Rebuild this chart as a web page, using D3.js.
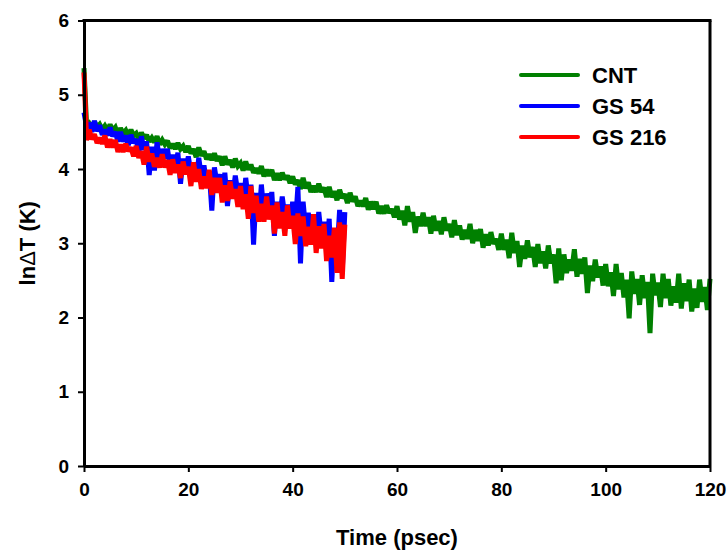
<!DOCTYPE html>
<html>
<head>
<meta charset="utf-8">
<script src="https://cdn.jsdelivr.net/npm/d3@7"></script>
<style>
    html, body { margin: 0; padding: 0; background: #FFFFFF; }
    svg { display: block; }
    text { font-family: Arial, "Liberation Sans", sans-serif; font-weight: bold; fill: #000; }
</style>
</head>
<body>
<svg id="chart"></svg>
<script>
const width = 728
const height = 550

// Data (ln dT in K, one reading every 0.5 psec starting at t = 0)
const sampleStep = 0.5

const cntValues = [
    5.36, 4.57, 4.61, 4.54, 4.64, 4.56, 4.60, 4.53, 4.58, 4.52,
    4.60, 4.52, 4.56, 4.46, 4.55, 4.48, 4.52, 4.44, 4.53, 4.45,
    4.48, 4.40, 4.49, 4.41, 4.46, 4.37, 4.42, 4.36, 4.44, 4.33,
    4.39, 4.33, 4.38, 4.28, 4.34, 4.27, 4.35, 4.27, 4.31, 4.23,
    4.31, 4.21, 4.27, 4.16, 4.29, 4.18, 4.24, 4.13, 4.20, 4.12,
    4.21, 4.11, 4.17, 4.05, 4.17, 4.06, 4.12, 4.02, 4.14, 4.04,
    4.08, 3.98, 4.10, 3.99, 4.06, 3.95, 4.01, 3.94, 4.04, 3.90,
    3.99, 3.91, 3.99, 3.85, 3.94, 3.85, 3.95, 3.86, 3.91, 3.81,
    3.90, 3.79, 3.85, 3.73, 3.88, 3.74, 3.82, 3.69, 3.77, 3.69,
    3.80, 3.69, 3.75, 3.62, 3.76, 3.62, 3.70, 3.58, 3.72, 3.61,
    3.66, 3.54, 3.68, 3.56, 3.63, 3.50, 3.57, 3.50, 3.61, 3.45,
    3.56, 3.46, 3.56, 3.40, 3.50, 3.40, 3.51, 3.41, 3.46, 3.35,
    3.50, 3.32, 3.44, 3.24, 3.50, 3.29, 3.42, 3.14, 3.36, 3.23,
    3.41, 3.23, 3.35, 3.13, 3.37, 3.17, 3.30, 3.12, 3.35, 3.17,
    3.26, 3.08, 3.31, 3.11, 3.24, 3.05, 3.18, 3.06, 3.26, 3.00,
    3.18, 3.03, 3.19, 2.94, 3.12, 2.97, 3.15, 2.99, 3.06, 2.91,
    3.13, 2.91, 3.05, 2.80, 3.14, 2.87, 3.03, 2.68, 2.97, 2.79,
    3.04, 2.81, 2.95, 2.68, 2.99, 2.73, 2.89, 2.66, 2.97, 2.73,
    2.85, 2.46, 2.93, 2.50, 2.85, 2.60, 2.78, 2.63, 2.92, 2.55,
    2.79, 2.59, 2.81, 2.33, 2.70, 2.49, 2.78, 2.54, 2.69, 2.43,
    2.72, 2.42, 2.61, 2.29, 2.72, 2.38, 2.60, 2.27, 2.51, 1.99,
    2.62, 2.32, 2.52, 2.17, 2.57, 2.26, 2.48, 1.79, 2.59, 2.30,
    2.47, 2.14, 2.59, 2.26, 2.52, 2.16, 2.42, 2.20, 2.59, 2.12,
    2.46, 2.22, 2.51, 2.08, 2.39, 2.13, 2.51, 2.21, 2.41, 2.10,
    2.52
]

const gs54Values = [
    4.76, 4.57, 4.62, 4.50, 4.65, 4.51, 4.59, 4.46, 4.53, 4.45,
    4.56, 4.44, 4.50, 4.37, 4.50, 4.37, 4.45, 4.32, 4.46, 4.35,
    4.40, 4.23, 4.44, 4.26, 4.37, 3.92, 4.30, 3.98, 4.36, 4.12,
    4.27, 4.14, 4.27, 4.04, 4.19, 4.05, 4.22, 3.80, 4.14, 3.98,
    4.17, 3.95, 4.08, 3.84, 4.15, 3.90, 4.05, 3.80, 3.97, 3.44,
    4.02, 3.81, 3.93, 3.66, 3.95, 3.50, 3.85, 3.63, 3.91, 3.68,
    3.81, 3.52, 3.88, 3.59, 3.79, 2.98, 3.68, 3.30, 3.79, 3.40,
    3.67, 3.44, 3.69, 3.10, 3.56, 3.32, 3.63, 3.37, 3.52, 3.25,
    3.56, 3.23, 3.76, 2.73, 3.56, 3.18, 3.41, 3.05, 3.31, 3.06,
    3.42, 3.09, 3.29, 2.90, 3.33, 2.48, 3.20, 2.87, 3.45, 2.62,
    3.42
]

const gs216Values = [
    5.30, 4.39, 4.53, 4.40, 4.47, 4.35, 4.42, 4.34, 4.45, 4.29,
    4.40, 4.29, 4.39, 4.23, 4.33, 4.23, 4.34, 4.24, 4.29, 4.17,
    4.31, 4.15, 4.24, 4.06, 4.30, 4.10, 4.21, 4.03, 4.15, 4.02,
    4.20, 4.02, 4.12, 3.92, 4.13, 3.95, 4.06, 3.88, 4.10, 3.93,
    4.03, 3.77, 4.09, 3.83, 4.00, 3.73, 3.90, 3.74, 3.99, 3.65,
    3.88, 3.68, 3.88, 3.55, 3.78, 3.57, 3.83, 3.60, 3.73, 3.49,
    3.77, 3.46, 3.66, 3.33, 3.77, 3.41, 3.64, 3.29, 3.53, 3.29,
    3.63, 3.32, 3.51, 3.13, 3.55, 3.20, 3.42, 3.10, 3.51, 3.20,
    3.37, 2.99, 3.40, 3.10, 3.36, 2.96, 3.22, 2.98, 3.39, 2.87,
    3.23, 2.93, 3.26, 2.76, 3.10, 2.81, 3.21, 2.60, 3.28, 2.52,
    3.25
]

const seriesNames = ["CNT", "GS 54", "GS 216"]
const seriesValues = [cntValues, gs54Values, gs216Values]

const xTicks = [0, 20, 40, 60, 80, 100, 120]
const yTicks = [0, 1, 2, 3, 4, 5, 6]

// Style configuration
const seriesColors = { "CNT": "#008000", "GS 54": "#0000FF", "GS 216": "#FF0000" }
const axisStroke = 3
const lineStroke = 5
const tickFontSize = 19

// Layout
const margin = { top: 20.5, right: 18, bottom: 84, left: 84 }
const plotRight = width - margin.right
const plotBottom = height - margin.bottom

const svg = d3.select("#chart")
    .attr("width", width)
    .attr("height", height)

const x = d3.scaleLinear().domain([0, 120]).range([margin.left, plotRight])
const y = d3.scaleLinear().domain([0, 6]).range([plotBottom, margin.top])

// Series: green first, then blue, red on top
const line = d3.line()
    .x((d, i) => x(i * sampleStep))
    .y(d => y(d))

svg.append("g")
    .selectAll("path")
    .data(seriesNames)
    .enter()
    .append("path")
    .attr("d", (name, i) => line(seriesValues[i]))
    .attr("fill", "none")
    .attr("stroke", name => seriesColors[name])
    .attr("stroke-width", lineStroke)
    .attr("stroke-linejoin", "miter")
    .attr("stroke-miterlimit", 2)

// Axes
const xAxis = svg.append("g")
    .attr("transform", `translate(0,${plotBottom})`)
    .call(d3.axisBottom(x).tickValues(xTicks).tickFormat(d3.format("d"))
        .tickSize(6).tickSizeOuter(0).tickPadding(11))

const yAxis = svg.append("g")
    .attr("transform", `translate(${margin.left},0)`)
    .call(d3.axisLeft(y).tickValues(yTicks).tickFormat(d3.format("d"))
        .tickSize(6).tickSizeOuter(0).tickPadding(9))

for (const axis of [xAxis, yAxis]) {
    axis.select(".domain").attr("stroke", "#000").attr("stroke-width", axisStroke)
    axis.selectAll(".tick line").attr("stroke", "#000").attr("stroke-width", 2)
    axis.selectAll(".tick text")
        .attr("font-family", "Arial, 'Liberation Sans', sans-serif")
        .attr("font-weight", "bold")
        .attr("font-size", tickFontSize)
        .attr("fill", "#000")
}

// Frame: top and right edges
svg.append("line")
    .attr("x1", x(0) - axisStroke / 2).attr("x2", x(120) + axisStroke / 2)
    .attr("y1", y(6)).attr("y2", y(6))
    .attr("stroke", "#000").attr("stroke-width", axisStroke)

svg.append("line")
    .attr("x1", x(120)).attr("x2", x(120))
    .attr("y1", y(6)).attr("y2", y(0))
    .attr("stroke", "#000").attr("stroke-width", axisStroke)

// Axis titles
svg.append("text")
    .attr("x", (x(0) + x(120)) / 2)
    .attr("y", 545)
    .attr("text-anchor", "middle")
    .attr("font-size", 22)
    .text("Time (psec)")

const yTitle = svg.append("text")
    .attr("transform", `translate(35,${(y(0) + y(6)) / 2}) rotate(-90)`)
    .attr("text-anchor", "middle")
    .attr("font-size", 22)
yTitle.append("tspan").text("ln")
yTitle.append("tspan").attr("font-weight", "normal").text("\u0394")
yTitle.append("tspan").text("T (K)")

// Legend
const legend = svg.append("g")
    .selectAll("g")
    .data(seriesNames)
    .enter()
    .append("g")
    .attr("transform", (d, i) => `translate(521,${75 + i * 31})`)

legend.append("line")
    .attr("x1", 0).attr("x2", 57)
    .attr("y1", 0).attr("y2", 0)
    .attr("stroke", d => seriesColors[d])
    .attr("stroke-width", 4)
    .attr("stroke-linecap", "round")

legend.append("text")
    .attr("x", 71)
    .attr("y", 8)
    .attr("font-size", 22)
    .text(d => d)
</script>
</body>
</html>
